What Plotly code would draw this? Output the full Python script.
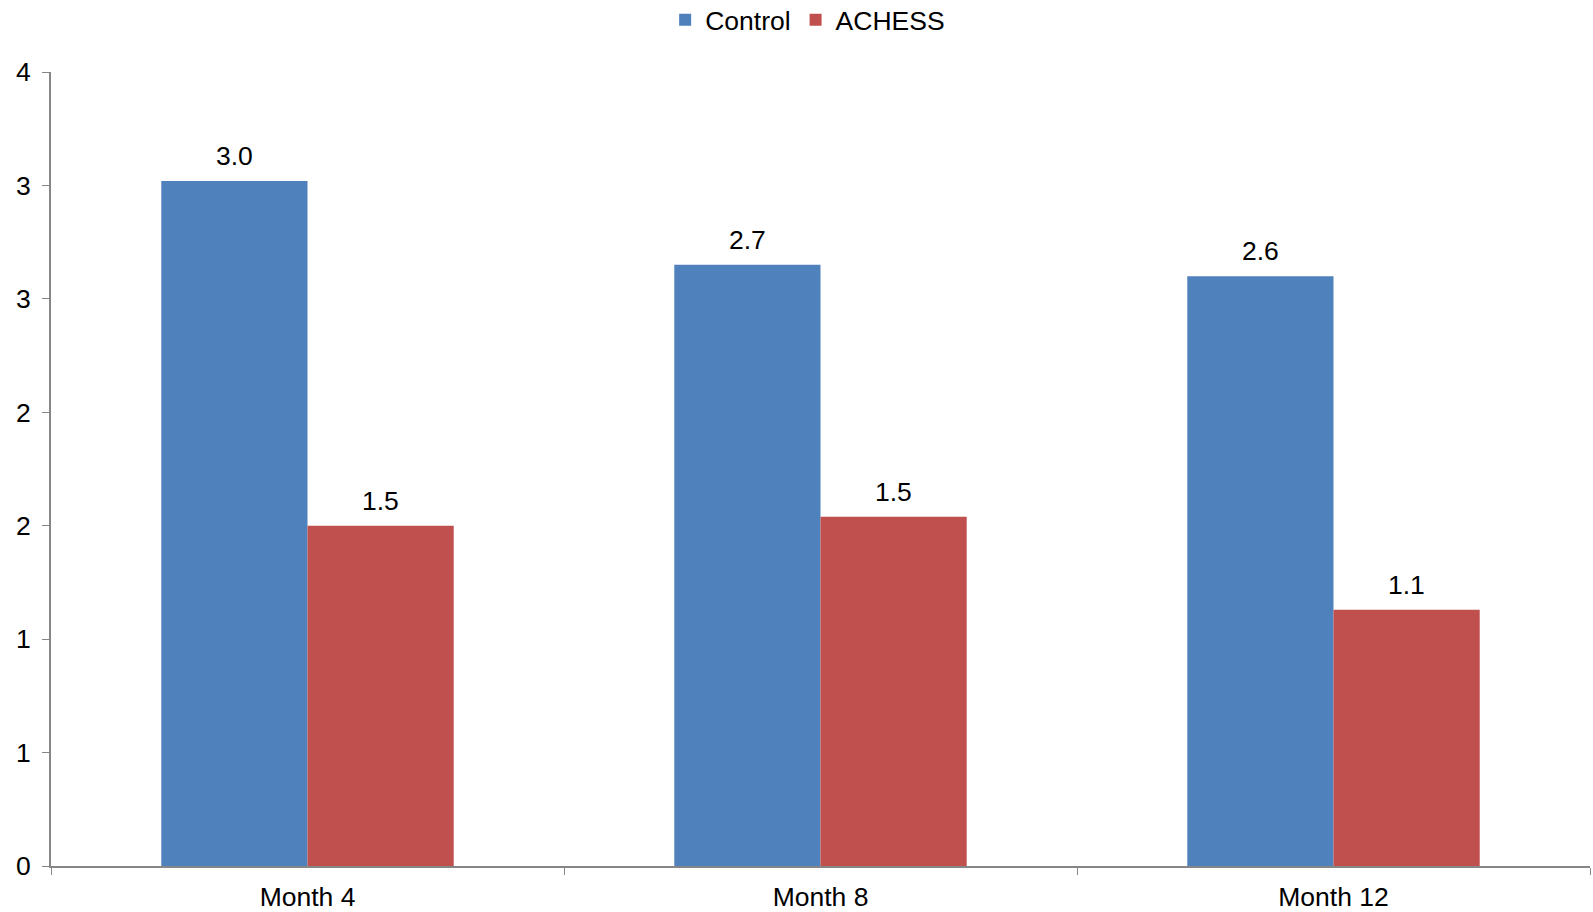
import plotly.graph_objects as go

categories = ["Month 4", "Month 8", "Month 12"]
control = [3.02, 2.65, 2.60]
achess = [1.50, 1.54, 1.13]
control_labels = ["3.0", "2.7", "2.6"]
achess_labels = ["1.5", "1.5", "1.1"]
ytick_vals = [0, 0.5, 1, 1.5, 2, 2.5, 3, 3.5]
ytick_text = ["0", "1", "1", "2", "2", "3", "3", "4"]

FONT = "Liberation Sans, Arial, sans-serif"
AX = "#868686"
W, H = 1593, 912
ML, MR, MT, MB = 51, 3, 72, 46
BARGAP = 0.43
FS = 26.5

fig = go.Figure()
fig.add_trace(go.Bar(x=categories, y=control, name="Control", marker_color="#4F81BD",
                     marker_line_width=0))
fig.add_trace(go.Bar(x=categories, y=achess, name="ACHESS", marker_color="#C0504D",
                     marker_line_width=0))

bar_px = (W - ML - MR) / len(categories) * (1 - BARGAP) / 2
for vals, labels, sign in [(control, control_labels, -1), (achess, achess_labels, 1)]:
    for c, v, t in zip(categories, vals, labels):
        fig.add_annotation(x=c, y=v, text=t, showarrow=False, xshift=sign * bar_px / 2,
                           yshift=8, yanchor="bottom",
                           font=dict(size=FS, color="black", family=FONT))

fig.update_layout(
    width=W, height=H,
    barmode="group", bargap=BARGAP, bargroupgap=0,
    plot_bgcolor="white", paper_bgcolor="white",
    margin=dict(l=ML, r=MR, t=MT, b=MB, autoexpand=False),
    font=dict(family=FONT, size=FS, color="black"),
    legend=dict(orientation="h", x=0.507, xanchor="center", xref="container",
                y=0.978, yref="container", yanchor="middle", font=dict(size=FS),
                itemwidth=30, traceorder="normal", bgcolor="rgba(0,0,0,0)"),
)
fig.update_xaxes(showline=True, linecolor=AX, linewidth=2, ticks="outside",
                 tickson="boundaries", ticklen=7, tickcolor=AX, tickwidth=1,
                 showgrid=False, tickfont=dict(size=FS), ticklabelstandoff=6)
fig.update_yaxes(range=[0, 3.5], tickvals=ytick_vals, ticktext=ytick_text,
                 showline=True, linecolor=AX, linewidth=2, ticks="outside",
                 ticklen=7, tickcolor=AX, tickwidth=1, showgrid=False,
                 zeroline=False, tickfont=dict(size=FS), ticklabelstandoff=6)

fig.write_html("out.html")
